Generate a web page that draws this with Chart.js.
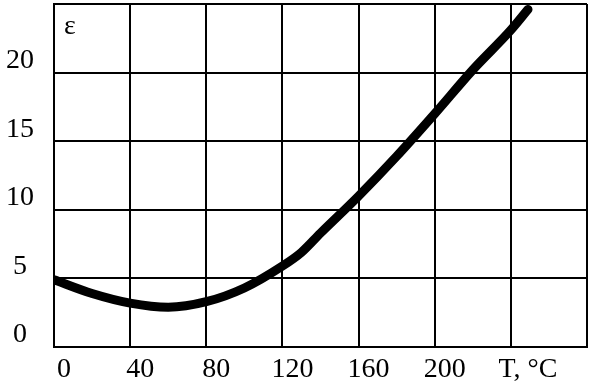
<!DOCTYPE html>
<html>
<head>
<meta charset="utf-8">
<script src="https://cdn.jsdelivr.net/npm/chart.js@4/dist/chart.umd.min.js"></script>
<style>
  html, body { margin: 0; padding: 0; background: #fff; }
  #wrap { width: 593px; height: 390px; }
</style>
</head>
<body>
<div id="wrap"><canvas id="epsChart" width="593" height="390"></canvas></div>
<script>
// Data
const temps = [0, 20, 40, 60, 80, 100, 120, 130, 140, 160, 180, 200, 220, 240, 249];
const epsValues = [4.9, 3.9, 3.2, 2.9, 3.3, 4.3, 5.9, 6.9, 8.3, 11.0, 13.9, 17.0, 20.2, 23.1, 24.6];
const xTickValues = [0, 40, 80, 120, 160, 200, 240, 280];
const xTickLabels = ["0", "40", "80", "120", "160", "200", "  T, \u00b0C", ""];
const yTickValues = [0, 5, 10, 15, 20, 25];
const yTickLabels = ["0", "5", "10", "15", "20", ""];
const yAxisName = "\u03b5";

const serif = "'Liberation Serif', 'DejaVu Serif', serif";

// draws the epsilon name inside the plot, top-left corner
const axisNamePlugin = {
  id: "axisName",
  afterDraw(chart) {
    const ctx = chart.ctx;
    const area = chart.chartArea;
    ctx.save();
    ctx.fillStyle = "#000";
    ctx.font = "28px " + serif;
    ctx.textAlign = "left";
    ctx.textBaseline = "alphabetic";
    ctx.fillText(yAxisName, area.left + 10, area.top + 30);
    ctx.restore();
  },
};

new Chart(document.getElementById("epsChart"), {
  type: "line",
  data: {
    datasets: [
      {
        data: temps.map((t, i) => ({ x: t, y: epsValues[i] })),
        borderColor: "#000",
        borderWidth: 9,
        borderCapStyle: "round",
        borderJoinStyle: "round",
        cubicInterpolationMode: "monotone",
        pointRadius: 0,
        fill: false,
      },
    ],
  },
  options: {
    responsive: false,
    animation: false,
    layout: { padding: { top: 4, right: 6, left: 0, bottom: 0 } },
    plugins: {
      legend: { display: false },
      tooltip: { enabled: false },
    },
    scales: {
      x: {
        type: "linear",
        min: 0,
        max: 280,
        afterBuildTicks(scale) {
          scale.ticks = xTickValues.map((v) => ({ value: v }));
        },
        afterFit(scale) {
          scale.height = 43;
          scale.paddingLeft = 0;
          scale.paddingRight = 0;
        },
        grid: { color: "#000", lineWidth: 2, drawTicks: false },
        border: { color: "#000", width: 2 },
        ticks: {
          color: "#000",
          font: { family: serif, size: 28 },
          padding: 6,
          labelOffset: 10,
          maxRotation: 0,
          autoSkip: false,
          callback: (v) => xTickLabels[xTickValues.indexOf(v)],
        },
      },
      y: {
        min: 0,
        max: 25,
        afterBuildTicks(scale) {
          scale.ticks = yTickValues.map((v) => ({ value: v }));
        },
        afterFit(scale) {
          scale.width = 54;
          scale.paddingTop = 0;
          scale.paddingBottom = 0;
        },
        grid: { color: "#000", lineWidth: 2, drawTicks: false },
        border: { color: "#000", width: 2 },
        ticks: {
          color: "#000",
          font: { family: serif, size: 28 },
          padding: 20,
          crossAlign: "center",
          labelOffset: -12,
          autoSkip: false,
          callback: (v) => yTickLabels[yTickValues.indexOf(v)],
        },
      },
    },
  },
  plugins: [axisNamePlugin],
});
</script>
</body>
</html>
